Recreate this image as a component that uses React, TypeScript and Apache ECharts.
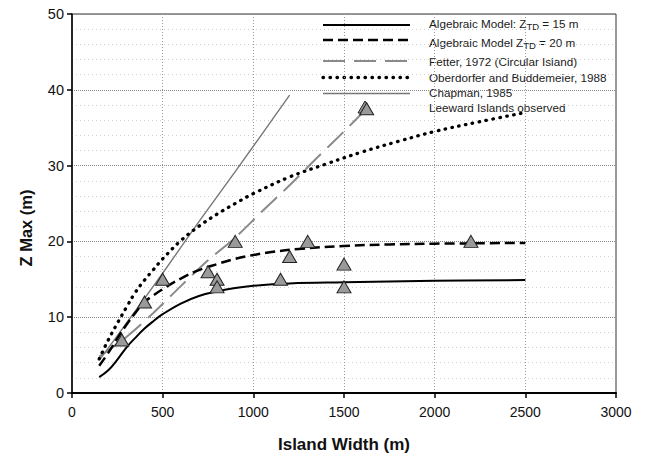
import React, { useEffect, useRef } from "react";
import * as echarts from "echarts";

// Island width (m) / Z max (m)
const algebraic15: number[][] = [
  [150, 2.1], [200, 3.0], [250, 4.4], [300, 6.0], [350, 7.3], [400, 8.5], [450, 9.5],
  [500, 10.4], [600, 11.8], [700, 12.8], [800, 13.4], [900, 13.85], [1000, 14.15],
  [1200, 14.45], [1500, 14.6], [2000, 14.8], [2500, 14.9],
];
const algebraic20: number[][] = [
  [150, 3.6], [200, 5.3], [250, 7.2], [300, 9.0], [350, 10.6], [400, 12.0], [450, 12.9],
  [500, 13.7], [600, 15.1], [700, 16.2], [800, 17.0], [900, 17.7], [1000, 18.2],
  [1100, 18.6], [1250, 19.0], [1500, 19.4], [1750, 19.6], [2000, 19.7], [2500, 19.8],
];
const fetter1972: number[][] = [
  [150, 4.8], [300, 7.4], [450, 10.6], [600, 14.1], [750, 17.5], [900, 20.5],
  [1050, 24.0], [1200, 27.4], [1350, 31.0], [1500, 34.5], [1620, 37.4],
];
const oberdorfer1988: number[][] = [
  [150, 4.5], [200, 7.0], [250, 9.2], [300, 11.3], [350, 13.3], [400, 14.9], [450, 16.3],
  [500, 17.7], [600, 20.1], [700, 22.0], [800, 23.6], [900, 25.0], [1000, 26.3],
  [1200, 28.5], [1400, 30.2], [1600, 31.8], [1800, 33.2], [2000, 34.5], [2250, 35.8],
  [2500, 37.0],
];
const chapman1985: number[][] = [
  [150, 4.3], [300, 9.2], [500, 15.8], [700, 22.6], [900, 29.2], [1200, 39.3],
];
const observedWidth = [275, 400, 500, 750, 800, 800, 900, 1150, 1200, 1300, 1500, 1500, 1625, 2200];
const observedZ = [7, 12, 15, 16, 15, 14, 20, 15, 18, 20, 17, 14, 37.5, 20];

const legendLabels = [
  "Algebraic Model: Z{sub|TD} = 15 m",
  "Algebraic Model Z{sub|TD} = 20 m",
  "Fetter, 1972 (Circular Island)",
  "Oberdorfer and Buddemeier, 1988",
  "Chapman, 1985",
  "Leeward Islands observed",
];

const FONT = "'Liberation Sans', Arial, sans-serif";

export default function App() {
  const ref = useRef<HTMLDivElement>(null);
  useEffect(() => {
    if (!ref.current) return;
    const chart = echarts.init(ref.current, null, { renderer: "svg" });
    const gray = "#8a8a8a";
    const lx1 = 323, lx2 = 410, tx = 429;
    const rowLine = [25, 40, 61, 77.5, 93.5, 107];
    const rowText = [23.5, 42, 61, 77.5, 92, 107];
    const graphic: any[] = [
      { type: "line", shape: { x1: lx1, y1: rowLine[0], x2: lx2, y2: rowLine[0] }, style: { stroke: "#000", lineWidth: 2 } },
      { type: "line", shape: { x1: lx1, y1: rowLine[1], x2: lx2, y2: rowLine[1] }, style: { stroke: "#000", lineWidth: 2.5, lineDash: [10, 5] } },
      { type: "line", shape: { x1: lx1, y1: rowLine[2], x2: lx2, y2: rowLine[2] }, style: { stroke: gray, lineWidth: 2, lineDash: [22, 9] } },
      { type: "line", shape: { x1: lx1, y1: rowLine[3], x2: lx2, y2: rowLine[3] }, style: { stroke: "#000", lineWidth: 3.3, lineDash: [0.5, 6.5], lineCap: "round" } },
      { type: "line", shape: { x1: lx1, y1: rowLine[4], x2: lx2, y2: rowLine[4] }, style: { stroke: "#777", lineWidth: 1.4 } },
      { type: "polygon", shape: { points: [[365, 101], [358, 113], [372, 113]] }, style: { fill: "#9a9a9a", stroke: "#222", lineWidth: 1 } },
      ...legendLabels.map((t, i) => ({
        type: "text",
        x: tx,
        y: rowText[i],
        style: {
          text: t,
          font: `11.7px ${FONT}`,
          fill: "#1a1a1a",
          verticalAlign: "middle",
          rich: {
            sub: { fontSize: 9.5, fontFamily: FONT, fill: "#1a1a1a", padding: [6, 0, 0, 0], lineHeight: 10 },
          },
        },
      })),
      {
        type: "text",
        x: 26,
        y: 228,
        rotation: Math.PI / 2,
        style: {
          text: "Z Max (m)",
          font: `bold 16.5px ${FONT}`,
          fill: "#111",
          align: "center",
          verticalAlign: "middle",
        },
      },
    ];

    chart.setOption({
      animation: false,
      backgroundColor: "#fff",
      grid: { left: 72, right: 29, top: 14, bottom: 66, show: true, borderColor: "#333", borderWidth: 1 },
      xAxis: {
        type: "value",
        min: 0,
        max: 3000,
        interval: 500,
        name: "Island Width (m)",
        nameLocation: "middle",
        nameGap: 43,
        nameTextStyle: { fontFamily: FONT, fontWeight: "bold", fontSize: 17, color: "#111" },
        axisLine: { lineStyle: { color: "#000", width: 2 } },
        axisTick: { show: true, length: 5, lineStyle: { color: "#000", width: 1.5 } },
        axisLabel: { fontFamily: FONT, fontSize: 14, color: "#111", margin: 12, formatter: (v: number) => String(v) },
        splitLine: { show: true, lineStyle: { color: "#999", type: [1, 2], width: 1 } },
      },
      yAxis: {
        type: "value",
        min: 0,
        max: 50,
        interval: 10,
        axisLine: { show: true, lineStyle: { color: "#000", width: 1.5 } },
        axisTick: { show: true, length: 5, lineStyle: { color: "#000", width: 1.5 } },
        axisLabel: { fontFamily: FONT, fontSize: 14.5, color: "#111", margin: 8, formatter: (v: number) => String(v) },
        splitLine: { show: true, lineStyle: { color: "#888", type: [1, 1], width: 1 } },
        minorTick: { show: false, splitNumber: 5 },
        minorSplitLine: { show: true, lineStyle: { color: "#d0d0d0", type: [1, 3], width: 1 } },
      },
      graphic,
      series: [
        {
          name: "Algebraic Model: ZTD = 15 m",
          type: "line",
          data: algebraic15,
          smooth: 0.4,
          symbol: "none",
          lineStyle: { color: "#000", width: 2 },
          z: 3,
        },
        {
          name: "Algebraic Model ZTD = 20 m",
          type: "line",
          data: algebraic20,
          smooth: 0.4,
          symbol: "none",
          lineStyle: { color: "#000", width: 2.5, type: [10, 5] },
          z: 3,
        },
        {
          name: "Fetter, 1972 (Circular Island)",
          type: "line",
          data: fetter1972,
          smooth: 0.3,
          symbol: "none",
          lineStyle: { color: gray, width: 2, type: [22, 9] },
          z: 2,
        },
        {
          name: "Oberdorfer and Buddemeier, 1988",
          type: "line",
          data: oberdorfer1988,
          smooth: 0.4,
          symbol: "none",
          lineStyle: { color: "#000", width: 3.3, type: [0.5, 6.5], cap: "round" },
          z: 3,
        },
        {
          name: "Chapman, 1985",
          type: "line",
          data: chapman1985,
          smooth: 0.3,
          symbol: "none",
          lineStyle: { color: "#777", width: 1.4 },
          z: 2,
        },
        {
          name: "Leeward Islands observed",
          type: "scatter",
          data: observedWidth.map((w, i) => [w, observedZ[i]]),
          symbol: "triangle",
          symbolSize: [14, 12],
          itemStyle: { color: "#9a9a9a", borderColor: "#222", borderWidth: 1, opacity: 1 },
          z: 5,
        },
      ],
    });
    return () => chart.dispose();
  }, []);
  return (
    <div
      ref={ref}
      style={{ position: "fixed", left: 0, top: 0, width: 645, height: 459, background: "#fff" }}
    />
  );
}
